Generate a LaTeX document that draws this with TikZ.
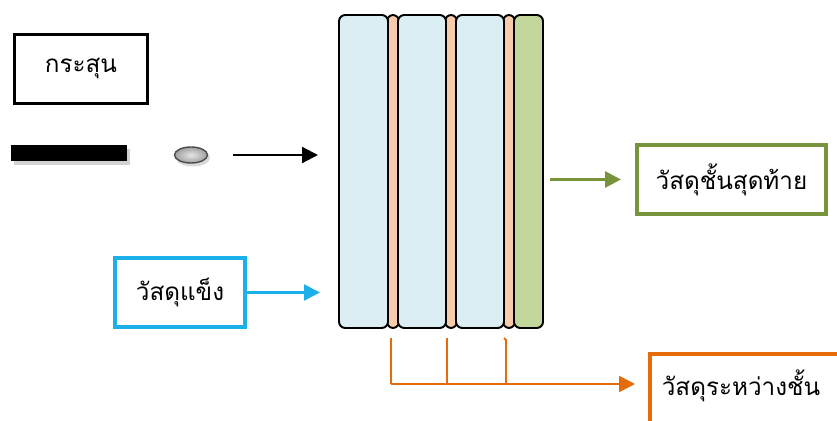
\documentclass[tikz,border=0pt]{standalone}
\usepackage{fontspec}
\newfontfamily\thaifont[Script=Thai]{Loma}
\usetikzlibrary{arrows.meta}
\definecolor{panelblue}{HTML}{DAEEF3}
\definecolor{shimorange}{HTML}{F8CBAD}
\definecolor{backgreen}{HTML}{C3D69B}
\definecolor{linegreen}{HTML}{77933C}
\definecolor{lineblue}{HTML}{1CB0EA}
\definecolor{lineorange}{HTML}{E46C0A}
\tikzset{
  tagbox/.style={draw, fill=white, font=\thaifont\fontsize{13.8}{16}\selectfont, line width=2.2pt},
  layer/.style={draw=black, line width=1.1pt, rounded corners=3.5pt},
  arrowtip/.style={-{Triangle[length=9pt,width=9pt]}}
}
\begin{document}
\begin{tikzpicture}[x=0.02cm,y=-0.02cm]
\clip (0,0) rectangle (837,421);
\fill[white] (0,0) rectangle (837,421);
% legend for the projectile
\node[tagbox, draw=black, line width=1.7pt, minimum width=2.66cm, minimum height=1.38cm] (bullet) at (81,69) {กระสุน};
\fill[gray!35] (14,149) rectangle (130,165);
\fill[black] (11,145) rectangle (127,161);
\fill[gray!30] (193,158) ellipse (17 and 8.5);
\shade[outer color=gray!75, inner color=gray!20, draw=gray!60!black, line width=0.8pt] (191,155) ellipse (16.5 and 8);
\coordinate (shot) at (233,155);
% armour layers
\node[layer, fill=shimorange, minimum width=0.24cm, minimum height=6.26cm] (shimA) at (393,171.5) {};
\node[layer, fill=shimorange, minimum width=0.24cm, minimum height=6.26cm] (shimB) at (451,171.5) {};
\node[layer, fill=shimorange, minimum width=0.24cm, minimum height=6.26cm] (shimC) at (509,171.5) {};
\node[layer, fill=panelblue, minimum width=0.98cm, minimum height=6.26cm] (plateA) at (363.5,171.5) {};
\node[layer, fill=panelblue, minimum width=0.96cm, minimum height=6.26cm] (plateB) at (422,171.5) {};
\node[layer, fill=panelblue, minimum width=0.96cm, minimum height=6.26cm] (plateC) at (480,171.5) {};
\node[layer, fill=backgreen, minimum width=0.58cm, minimum height=6.26cm] (backing) at (528.5,171.5) {};
\draw[arrowtip, line width=1.2pt] (shot) -- (318,155);
% labels
\node[tagbox, draw=linegreen, minimum width=3.78cm, minimum height=1.38cm] (last) at (731.5,179.5) {วัสดุชั้นสุดท้าย};
\node[tagbox, draw=lineblue, minimum width=2.6cm, minimum height=1.38cm] (hard) at (180,292.5) {วัสดุแข็ง};
\node[tagbox, draw=lineorange, minimum width=5cm, minimum height=2.2cm, anchor=north west] (mid) at (648,352) {};
\node[font=\thaifont\fontsize{13.8}{16}\selectfont] (midtext) at (741,386) {วัสดุระหว่างชั้น};
\draw[arrowtip, line width=1.7pt, linegreen] (backing.east |- last) ++(6,0) -- ++(71,0);
\draw[arrowtip, line width=1.4pt, lineblue] (hard.east) -- ++(73,0);
% joins under the interlayers
\coordinate (joinA) at (391,384);
\coordinate (joinB) at (447,384);
\coordinate (joinC) at (506,384);
\draw[lineorange, line width=1.1pt] (joinA) -- (joinA |- 0,338);
\draw[lineorange, line width=1.1pt] (joinB) -- (joinB |- 0,338);
\draw[lineorange, line width=1.1pt] (joinC) -- (506,340) -- (504,338);
\draw[arrowtip, lineorange, line width=1.3pt, shorten >=0.26cm] (joinA) -- (joinC) -- (mid.west |- joinC);
\end{tikzpicture}
\end{document}
